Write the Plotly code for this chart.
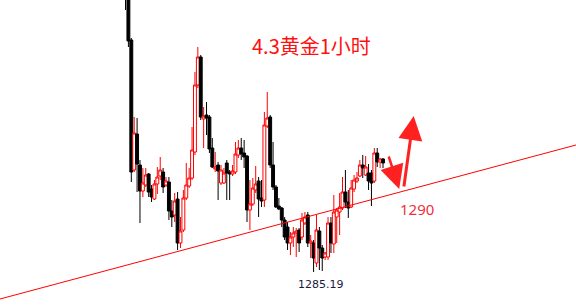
import plotly.graph_objects as go

# Hourly gold candles (index = bar number), prices
opens = [1299.79, 1298.94, 1296.79, 1290.29, 1292.09, 1290.54, 1289.24, 1289.54, 1290.09, 1289.34,
         1288.84, 1289.59, 1289.99, 1290.19, 1289.54, 1289.69, 1288.24, 1288.04, 1288.84, 1286.64,
         1287.29, 1288.89, 1289.49, 1289.89, 1291.19, 1294.54, 1295.94, 1292.84, 1293.04, 1292.94,
         1291.39, 1290.34, 1290.54, 1289.64, 1289.64, 1290.64, 1290.19, 1290.09, 1290.19, 1291.04,
         1291.39, 1291.14, 1290.99, 1288.29, 1288.59, 1289.29, 1289.74, 1288.89, 1288.79, 1292.49,
         1292.94, 1290.54, 1289.44, 1288.49, 1288.39, 1287.79, 1287.44, 1286.64, 1286.94, 1287.14,
         1287.29, 1286.94, 1287.64, 1288.04, 1286.64, 1286.64, 1285.64, 1287.24, 1286.39, 1285.94,
         1285.94, 1287.64, 1286.59, 1287.94, 1288.19, 1288.39, 1289.19, 1288.69, 1288.44, 1289.34,
         1289.74, 1289.99, 1290.54, 1290.04, 1290.14, 1290.14, 1289.74, 1291.14, 1290.69, 1290.84]
highs = [1300.04, 1299.19, 1296.89, 1292.94, 1292.89, 1290.79, 1290.39, 1290.39, 1290.14, 1289.54,
         1289.79, 1290.44, 1290.94, 1290.39, 1289.94, 1289.94, 1288.79, 1289.14, 1289.19, 1287.94,
         1289.29, 1290.64, 1290.39, 1292.44, 1295.19, 1296.44, 1296.04, 1293.44, 1293.69, 1293.04,
         1291.89, 1291.19, 1290.69, 1290.54, 1290.39, 1290.79, 1290.29, 1290.54, 1291.69, 1291.79,
         1291.89, 1291.79, 1291.04, 1289.79, 1289.89, 1290.49, 1289.94, 1289.79, 1293.19, 1294.19,
         1293.04, 1291.69, 1289.54, 1288.89, 1288.44, 1287.94, 1287.69, 1287.19, 1287.44, 1287.39,
         1287.39, 1288.14, 1288.19, 1288.19, 1287.04, 1286.79, 1288.04, 1287.44, 1286.54, 1286.19,
         1287.94, 1287.94, 1289.04, 1288.39, 1289.14, 1289.94, 1290.29, 1289.29, 1289.79, 1290.04,
         1290.19, 1290.79, 1291.04, 1290.99, 1290.59, 1290.29, 1291.39, 1291.39, 1290.89, 1290.89]
lows = [1298.29, 1296.44, 1289.69, 1290.19, 1289.19, 1287.64, 1288.94, 1289.44, 1288.94, 1288.69,
        1288.79, 1289.09, 1289.79, 1289.14, 1289.44, 1287.79, 1287.44, 1287.69, 1286.29, 1286.39,
        1287.19, 1288.79, 1289.39, 1289.79, 1291.04, 1294.39, 1292.79, 1291.39, 1292.04, 1291.14,
        1290.39, 1290.19, 1288.79, 1289.54, 1289.59, 1288.79, 1288.79, 1289.99, 1290.09, 1290.89,
        1290.79, 1290.39, 1287.69, 1287.29, 1288.49, 1289.14, 1287.94, 1288.44, 1288.44, 1292.39,
        1290.39, 1289.29, 1288.39, 1288.29, 1287.44, 1286.79, 1286.29, 1286.04, 1286.44, 1285.94,
        1286.19, 1286.79, 1287.54, 1286.44, 1285.89, 1285.19, 1285.44, 1285.29, 1285.24, 1285.79,
        1285.79, 1286.14, 1286.14, 1286.64, 1287.04, 1288.29, 1288.39, 1287.89, 1288.39, 1289.19,
        1289.64, 1289.94, 1289.89, 1289.99, 1289.29, 1288.49, 1289.64, 1290.44, 1290.39, 1290.39]
closes = [1298.89, 1296.74, 1290.19, 1292.14, 1290.59, 1289.24, 1289.64, 1290.04, 1289.19, 1288.94,
          1289.59, 1289.94, 1290.29, 1289.44, 1289.74, 1288.24, 1287.94, 1288.74, 1286.64, 1287.24,
          1288.89, 1289.54, 1289.89, 1291.29, 1294.54, 1295.94, 1292.94, 1292.99, 1292.89, 1291.34,
          1290.44, 1290.44, 1290.24, 1290.29, 1290.14, 1290.14, 1290.09, 1290.24, 1291.09, 1291.39,
          1291.09, 1290.94, 1288.29, 1288.59, 1289.39, 1289.59, 1288.84, 1288.74, 1292.54, 1292.89,
          1290.54, 1289.44, 1288.44, 1288.34, 1287.79, 1286.94, 1286.64, 1286.94, 1287.14, 1287.24,
          1286.64, 1287.79, 1287.94, 1286.64, 1286.74, 1285.89, 1287.29, 1286.39, 1285.89, 1286.14,
          1287.64, 1286.64, 1288.19, 1288.29, 1288.44, 1289.19, 1288.69, 1288.39, 1289.39, 1289.79,
          1289.89, 1290.54, 1290.39, 1290.44, 1289.74, 1289.64, 1291.14, 1290.69, 1290.84, 1290.64]
bars = list(range(len(opens)))

# Hand-drawn support line (two anchor points, bar index / price)
trend_x = [-43.4, 155.7]
trend_y = [1283.84, 1291.54]

title_text = "4.3黄金1小时"
target_label = "1290"
low_label = "1285.19"

fig = go.Figure()
fig.add_trace(go.Candlestick(
    x=bars, open=opens, high=highs, low=lows, close=closes,
    increasing=dict(line=dict(color="#ff0000", width=1), fillcolor="#ffffff"),
    decreasing=dict(line=dict(color="#000000", width=1), fillcolor="#000000"),
    whiskerwidth=0, showlegend=False, hoverinfo="skip",
))

fig.add_shape(type="line", xref="x", yref="y",
              x0=trend_x[0], y0=trend_y[0], x1=trend_x[1], y1=trend_y[1],
              line=dict(color="#ff0000", width=1))

# arrows
fig.add_annotation(x=94.6, y=1289.34, xref="x", yref="y", ax=-11, ay=-34,
                   showarrow=True, arrowhead=2, arrowsize=1.9, arrowwidth=2.5,
                   arrowcolor="#ff2020", text="")
fig.add_annotation(x=99.6, y=1292.99, xref="x", yref="y", ax=-10, ay=72,
                   showarrow=True, arrowhead=2, arrowsize=1.6, arrowwidth=3,
                   arrowcolor="#ff2020", text="")

fig.add_annotation(x=311/576, y=1-45/306, xref="paper", yref="paper", text=title_text,
                   showarrow=False, font=dict(family="Noto Sans CJK SC", size=20, color="#ff1010"),
                   xanchor="center", yanchor="middle")
fig.add_annotation(x=417/576, y=1-209/306, xref="paper", yref="paper", text=target_label,
                   showarrow=False, font=dict(family="Noto Sans", size=15, color="#f03040"),
                   xanchor="center", yanchor="middle")
fig.add_annotation(x=321/576, y=1-284/306, xref="paper", yref="paper", text=low_label,
                   showarrow=False, font=dict(family="DejaVu Sans", size=11, color="#1a1a40"),
                   xanchor="center", yanchor="middle")

fig.update_layout(
    width=576, height=306, margin=dict(l=0, r=0, t=0, b=0),
    paper_bgcolor="white", plot_bgcolor="white", boxgap=0, boxgroupgap=0,
    xaxis=dict(range=[-43.38, 155.7], visible=False, rangeslider=dict(visible=False), fixedrange=True),
    yaxis=dict(range=[1283.49, 1298.79], visible=False, fixedrange=True),
    showlegend=False,
)
fig.write_html("out.html", config={"displayModeBar": False})
